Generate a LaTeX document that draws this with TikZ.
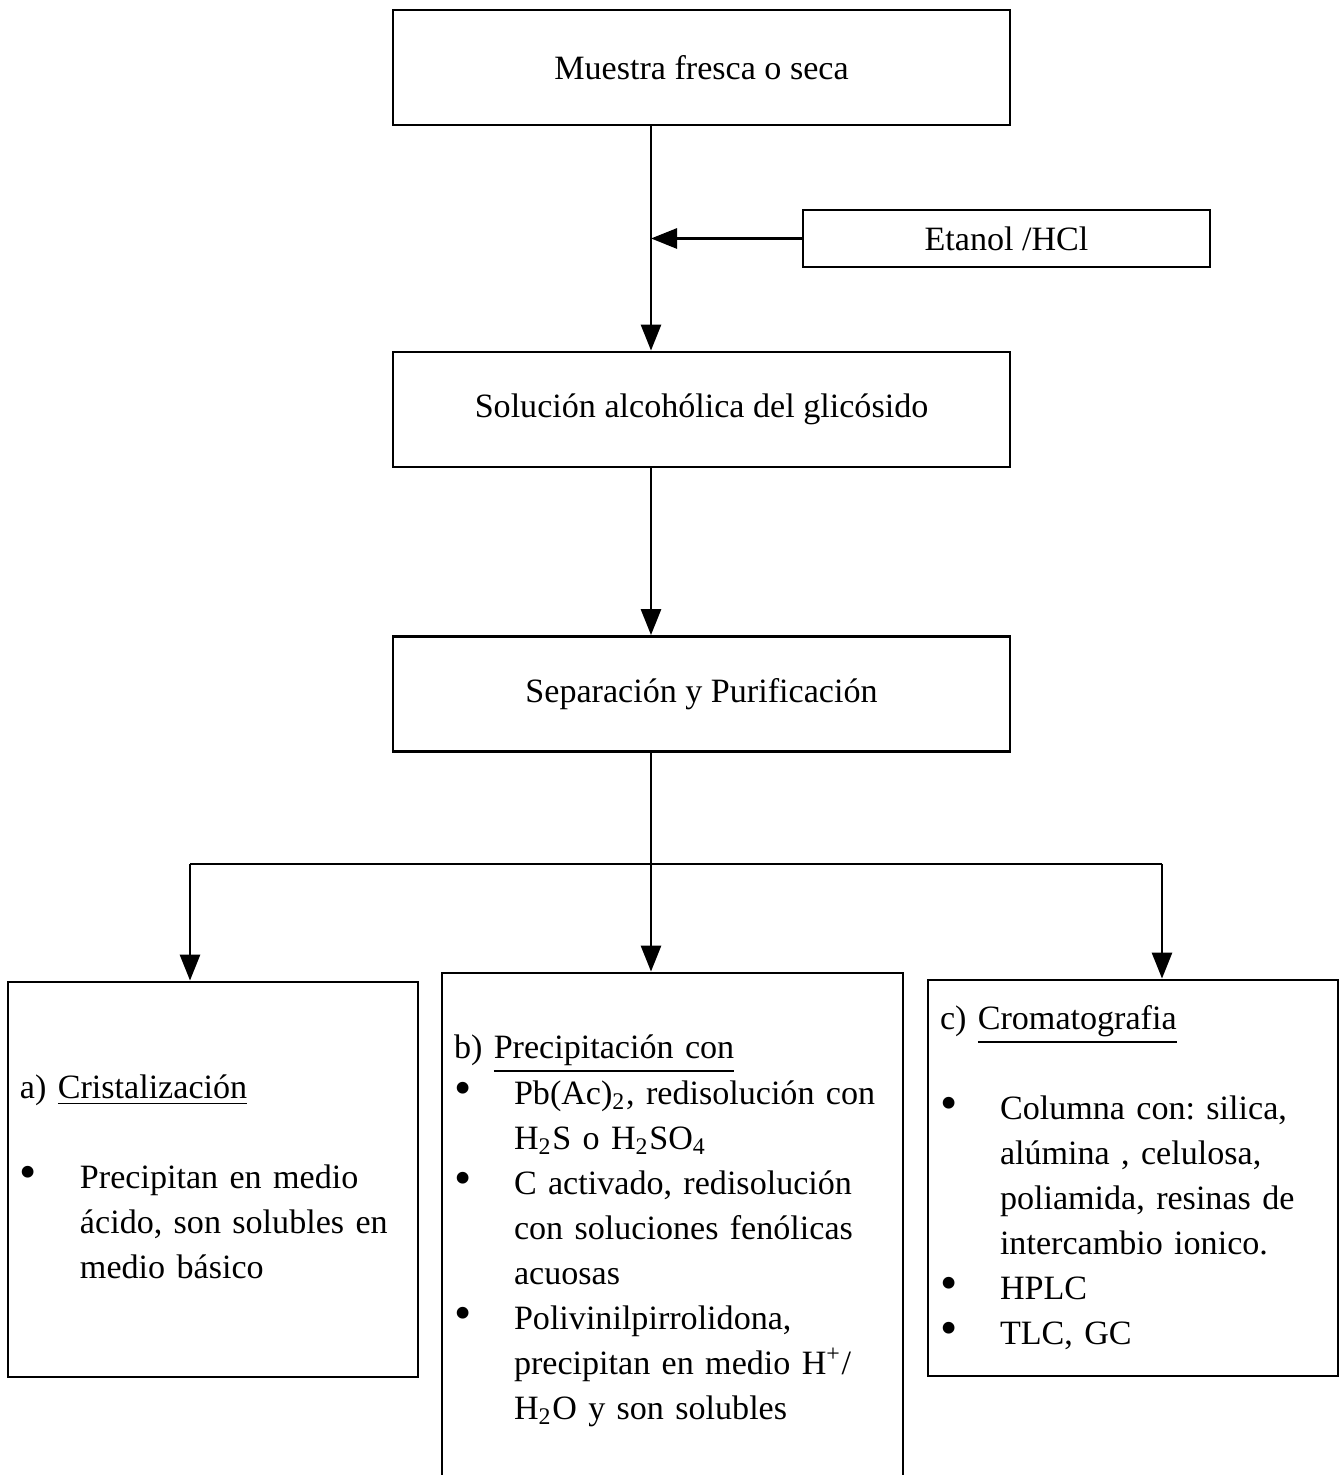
\documentclass[tikz,border=0pt]{standalone}
\usepackage{fontspec}
\setmainfont{Liberation Serif}
\usetikzlibrary{arrows.meta}
\frenchspacing
\newcommand{\bul}{{\fontsize{14}{12.8}\selectfont\textbullet}}

\begin{document}
\begin{tikzpicture}[font=\fontsize{9.7}{12.8}\selectfont\frenchspacing,
    caja/.style={draw, line width=0.8pt, inner sep=0pt},
    lista/.style={caja, align=left, inner xsep=0.12cm},
    flecha/.style={line width=0.8pt, -{Triangle[length=0.26cm,width=0.2cm]}}]
  \useasboundingbox (0,0) rectangle (13.41,14.75);
  \node[caja, minimum width=6.17cm, minimum height=1.15cm] (muestra) at (7.015,14.075) {Muestra fresca o seca};
  \node[caja, minimum width=4.07cm, minimum height=0.57cm] (etanol) at (10.065,12.365) {Etanol /HCl};
  \node[caja, minimum width=6.17cm, minimum height=1.15cm] (solucion) at (7.015,10.655) {Solución alcohólica del glicósido};
  \node[caja, minimum width=6.17cm, minimum height=1.15cm] (separacion) at (7.015,7.81) {Separación y Purificación};
  \node[lista, text width=3.86cm, minimum height=3.95cm] (crista) at (2.13,2.955) {%
    \begin{tabular}{@{}p{0.6cm}@{}l@{}}
    \multicolumn{2}{@{}l@{}}{a) \underline{Cristalización}}\\[12.8pt]
    \bul & Precipitan en medio\\
         & ácido, son solubles en\\
         & medio básico
    \end{tabular}};
  \node[lista, text width=4.37cm, minimum height=5.14cm] (precip) at (6.725,2.45) {%
    \begin{tabular}{@{}p{0.6cm}@{}l@{}}
    \multicolumn{2}{@{}l@{}}{b) \underline{Precipitación con}}\\
    \bul & Pb(Ac)\textsubscript{2}, redisolución con\\
         & H\textsubscript{2}S o H\textsubscript{2}SO\textsubscript{4}\\
    \bul & C activado, redisolución\\
         & con soluciones fenólicas\\
         & acuosas\\
    \bul & Polivinilpirrolidona,\\
         & precipitan en medio H\textsuperscript{+}/\\
         & H\textsubscript{2}O y son solubles
    \end{tabular}};
  \node[lista, text width=3.86cm, minimum height=3.96cm] (croma) at (11.33,2.97) {%
    \begin{tabular}{@{}p{0.6cm}@{}l@{}}
    \multicolumn{2}{@{}l@{}}{c) \underline{Cromatografia}}\\[12.8pt]
    \bul & Columna con: silica,\\
         & alúmina , celulosa,\\
         & poliamida, resinas de\\
         & intercambio ionico.\\
    \bul & HPLC\\
    \bul & TLC, GC
    \end{tabular}};
  \coordinate (spine) at (6.51,12.365);
  \coordinate (nudo) at (6.51,6.11);
  \coordinate (ramaA) at (1.90,6.11);
  \coordinate (ramaC) at (11.62,6.11);
  \draw[flecha] (etanol.west) -- (etanol.west -| spine);
  \draw[flecha] (muestra.south -| spine) -- (solucion.north -| spine);
  \draw[flecha] (solucion.south -| spine) -- (separacion.north -| spine);
  \draw[line width=0.8pt] (separacion.south -| nudo) -- (nudo);
  \draw[line width=0.8pt] (ramaA) -- (ramaC);
  \draw[flecha] (ramaA) -- (crista.north -| ramaA);
  \draw[flecha] (nudo) -- (precip.north -| nudo);
  \draw[flecha] (ramaC) -- (croma.north -| ramaC);
\end{tikzpicture}
\end{document}
